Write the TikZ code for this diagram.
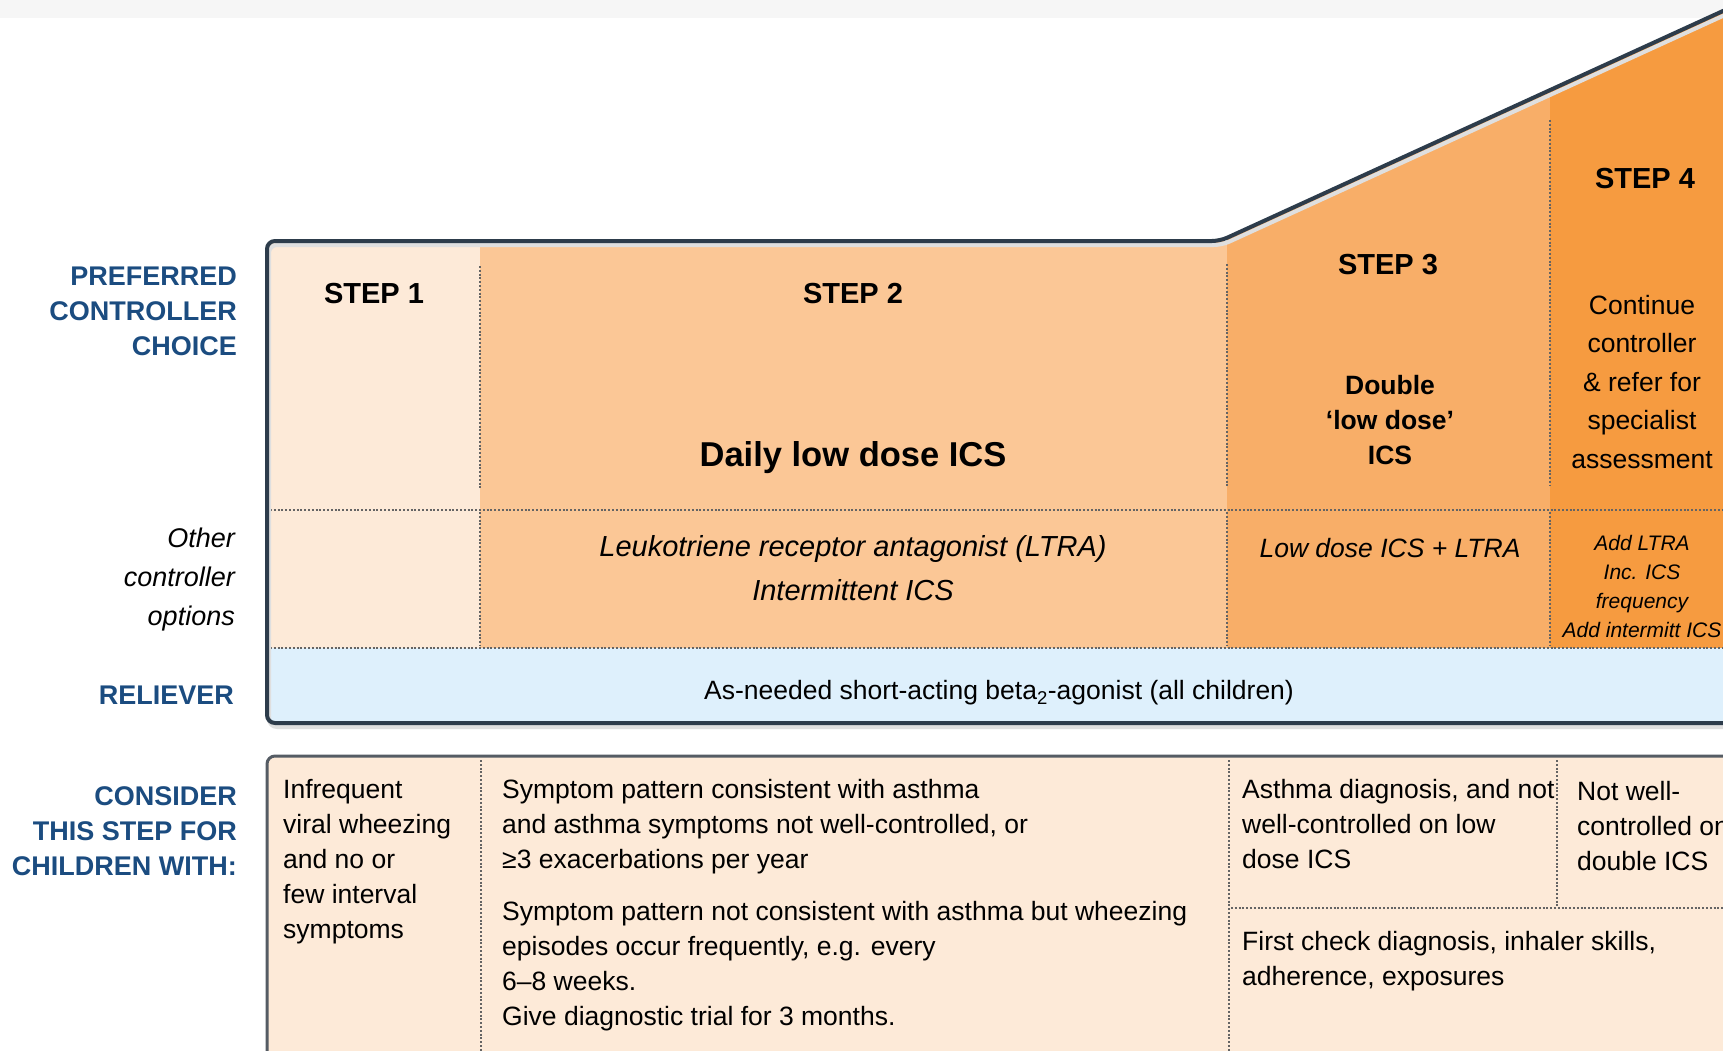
\documentclass[tikz,border=0pt]{standalone}
\usepackage{fontspec}
\setmainfont{Liberation Sans}

\definecolor{stepone}{RGB}{253,234,216}
\definecolor{steptwo}{RGB}{251,199,150}
\definecolor{stepthree}{RGB}{248,174,104}
\definecolor{stepfour}{RGB}{246,155,64}
\definecolor{relieverblue}{RGB}{222,240,252}
\definecolor{labelblue}{RGB}{27,76,128}
\definecolor{frameline}{RGB}{45,60,75}
\definecolor{lowerline}{RGB}{85,92,100}
\definecolor{dotline}{RGB}{100,100,100}

\tikzset{
    boxframe/.style={draw=frameline, line width=4pt, rounded corners=8pt},
    divider/.style={line width=2.4pt, dash pattern=on 2pt off 1.8pt, draw=dotline},
    sidelabel/.style={font=\bfseries\fontsize{27}{35}\selectfont, text=labelblue, align=right, inner sep=0pt},
    steplabel/.style={font=\bfseries\fontsize{29}{35}\selectfont, inner sep=0pt},
    body/.style={font=\fontsize{26.5}{35}\selectfont, align=left, inner sep=0pt, anchor=north west},
}

\begin{document}
\begin{tikzpicture}[x=1pt,y=-1pt]
    \clip (0,0) rectangle (1723,1051);
    \fill[white] (0,0) rectangle (1723,1051);
    \fill[gray!7] (0,0) rectangle (1723,18);

    % upper box: steps and reliever
    \begin{scope}
        \clip[rounded corners=8pt] (1740,723) -- (267,723) -- (267,241) -- (1220,241) -- (1740,3.2) -- cycle;
        \fill[stepone] (267,241) rectangle (480,648);
        \fill[steptwo] (480,241) rectangle (1227,648);
        \fill[stepthree] (1227,648) -- (1227,238) -- (1550,90) -- (1550,648) -- cycle;
        \fill[stepfour] (1550,648) -- (1550,90) -- (1740,0) -- (1740,648) -- cycle;
        \fill[relieverblue] (267,648) rectangle (1740,723);
    \end{scope}
    \draw[divider] (480,266) -- (480,490);
    \draw[divider] (480,512) -- (480,646);
    \draw[divider] (1227,264) -- (1227,486);
    \draw[divider] (1227,512) -- (1227,646);
    \draw[divider] (1550,120) -- (1550,486);
    \draw[divider] (1550,512) -- (1550,646);
    \draw[divider] (270,510) -- (1723,510);
    \draw[divider] (270,648) -- (1723,648);
    \draw[boxframe, draw=gray!25, shift={(2,4)}] (1740,723) -- (267,723) -- (267,241) -- (1220,241) -- (1740,3.2);
    \draw[boxframe] (1740,723) -- (267,723) -- (267,241) -- (1220,241) -- (1740,3.2);

    % lower box: who each step is for
    \fill[stepone, rounded corners=8pt] (267,1070) -- (267,756) -- (1740,756) -- (1740,1070) -- cycle;
    \draw[divider] (481,760) -- (481,1051);
    \draw[divider] (1229,760) -- (1229,1051);
    \draw[divider] (1557,760) -- (1557,906);
    \draw[divider] (1231,908) -- (1723,908);
    \draw[boxframe, draw=lowerline, line width=3pt] (267,1070) -- (267,756) -- (1740,756);

    % row labels
    \node[sidelabel, anchor=north east] (pref) at (237,267) {PREFERRED\\CONTROLLER\\CHOICE};
    \node[sidelabel, anchor=north east, font=\itshape\fontsize{27}{39}\selectfont, text=black] (other) at (235,528) {Other\\controller\\options};
    \node[sidelabel, anchor=east] (rel) at (234,695) {RELIEVER};
    \node[sidelabel, anchor=north east] (cons) at (237,786) {CONSIDER\\THIS STEP FOR\\CHILDREN WITH:};

    % step headings
    \node[steplabel] (s1) at (374,294) {STEP 1};
    \node[steplabel] (s2) at (853,294) {STEP 2};
    \node[steplabel] (s3) at (1388,265) {STEP 3};
    \node[steplabel] (s4) at (1645,179) {STEP 4};

    % preferred controllers
    \node[inner sep=0pt, font=\bfseries\fontsize{34.5}{40}\selectfont] (c2) at (853,458) {Daily low dose ICS};
    \node[inner sep=0pt, align=center, font=\bfseries\fontsize{26.5}{35}\selectfont] (c3) at (1390,420) {Double\\‘low dose’\\ICS};
    \node[inner sep=0pt, align=center, font=\fontsize{26.5}{38.5}\selectfont] (c4) at (1642,382) {Continue\\controller\\\& refer for\\specialist\\assessment};

    % other controller options
    \node[inner sep=0pt, align=center, font=\itshape\fontsize{29}{44}\selectfont] (o2) at (853,568) {Leukotriene receptor antagonist (LTRA)\\Intermittent ICS};
    \node[inner sep=0pt, font=\itshape\fontsize{26.5}{35}\selectfont] (o3) at (1390,548) {Low dose ICS + LTRA};
    \node[inner sep=0pt, align=center, font=\itshape\fontsize{21}{29}\selectfont] (o4) at (1642,586) {Add LTRA\\Inc. ICS\\frequency\\Add intermitt ICS};

    % reliever
    \node[inner sep=0pt, font=\fontsize{26.5}{35}\selectfont] (r) at (999,693) {As-needed short-acting beta\textsubscript{2}-agonist (all children)};

    % consider this step
    \node[body] (w1) at (283,779) {Infrequent\\viral wheezing\\and no or\\few interval\\symptoms};
    \node[body] (w2a) at (502,779) {Symptom pattern consistent with asthma\\and asthma symptoms not well-controlled, or\\≥3 exacerbations per year};
    \node[body] (w2b) at (502,901) {Symptom pattern not consistent with asthma but wheezing\\episodes occur frequently, e.g. every\\6–8 weeks.\\Give diagnostic trial for 3 months.};
    \node[body] (w3a) at (1242,779) {Asthma diagnosis, and not\\well-controlled on low\\dose ICS};
    \node[body] (w3b) at (1242,931) {First check diagnosis, inhaler skills,\\adherence, exposures};
    \node[body] (w4) at (1577,781) {Not well-\\controlled on\\double ICS};
\end{tikzpicture}
\end{document}
